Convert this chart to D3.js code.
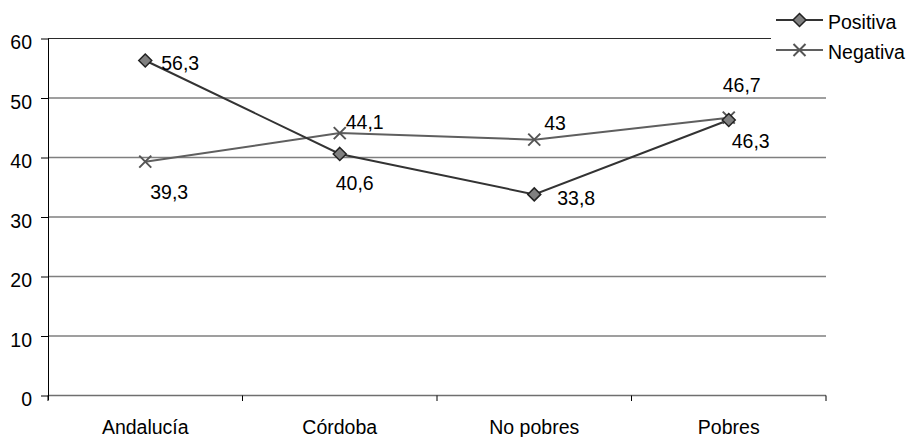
<!DOCTYPE html>
<html>
<head>
<meta charset="utf-8">
<script src="https://cdn.jsdelivr.net/npm/d3@7"></script>
<style>
  html, body { margin: 0; padding: 0; background: #fff; }
  svg { display: block; font-family: "Liberation Sans", Arial, sans-serif; }
</style>
</head>
<body>
<svg id="chart" width="908" height="437"></svg>
<script>
// Chart data
const categories = ["Andalucía", "Córdoba", "No pobres", "Pobres"];
const positiva = [56.3, 40.6, 33.8, 46.3];
const negativa = [39.3, 44.1, 43, 46.7];
const yTicks = [0, 10, 20, 30, 40, 50, 60];
const seriesNames = ["Positiva", "Negativa"];
const valueLabel = v => String(v).replace(".", ",");

const svg = d3.select("#chart");
const fontSize = 19.5;

const x = d3.scaleBand().domain(categories).range([48, 826]).padding(0);
const y = d3.scaleLinear().domain([0, 60]).range([395.5, 38.5]);
const cx = c => x(c) + x.bandwidth() / 2;

// Horizontal gridlines
svg.append("g").selectAll("line")
  .data(yTicks.filter(t => t > 0))
  .join("line")
  .attr("x1", 48).attr("x2", d => d === 60 ? 771 : 826)
  .attr("y1", d => y(d)).attr("y2", d => y(d))
  .attr("stroke", d => d === 60 ? "#2a2a2a" : "#7f7f7f")
  .attr("stroke-width", d => d === 60 ? 1 : 1.6);

// Category axis (bottom)
const xAxis = svg.append("g").attr("transform", `translate(0,${y(0)})`);
xAxis.append("line").attr("x1", 48).attr("x2", 826).attr("y1", 0).attr("y2", 0)
  .attr("stroke", "#6f6f6f").attr("stroke-width", 1.6);
const bounds = categories.map(c => x(c) + x.bandwidth()).concat([x(categories[0])]);
xAxis.selectAll("line.tick").data(bounds).join("line").attr("class", "tick")
  .attr("x1", d => d).attr("x2", d => d).attr("y1", 0).attr("y2", 5.5)
  .attr("stroke", "#000").attr("stroke-width", 1);
xAxis.selectAll("text").data(categories).join("text")
  .attr("x", d => cx(d)).attr("y", 38.5)
  .attr("text-anchor", "middle").attr("font-size", fontSize).attr("fill", "#000")
  .text(d => d);

// Value axis (left)
const yAxis = svg.append("g").attr("transform", "translate(48,0)")
  .call(d3.axisLeft(y).tickValues(yTicks).tickSize(7).tickSizeOuter(0).tickPadding(9));
yAxis.select(".domain").attr("stroke", "#000").attr("stroke-width", 1)
  .attr("d", `M0.5,${y(60)}V${y(0) + 4.5}`);
yAxis.selectAll(".tick line").attr("stroke", "#000");
yAxis.selectAll(".tick text").attr("font-size", fontSize).attr("fill", "#000")
  .attr("font-family", "Liberation Sans, Arial, sans-serif")
  .attr("dy", "0.52em").attr("x", -16);

// Lines
const line = d3.line().x((d, i) => cx(categories[i])).y(d => y(d));
svg.append("path").datum(negativa).attr("d", line)
  .attr("fill", "none").attr("stroke", "#5f5f5f").attr("stroke-width", 2);
svg.append("path").datum(positiva).attr("d", line)
  .attr("fill", "none").attr("stroke", "#333").attr("stroke-width", 2);

// Markers
const diamond = (g, px, py) => g.append("path")
  .attr("d", `M${px},${py - 6.5}L${px + 6.5},${py}L${px},${py + 6.5}L${px - 6.5},${py}Z`)
  .attr("fill", "#808080").attr("stroke", "#222").attr("stroke-width", 1.5);
const cross = (g, px, py) => g.append("path")
  .attr("d", `M${px - 6},${py - 6}L${px + 6},${py + 6}M${px - 6},${py + 6}L${px + 6},${py - 6}`)
  .attr("stroke", "#555").attr("stroke-width", 2).attr("fill", "none");

const marks = svg.append("g");
negativa.forEach((v, i) => cross(marks, cx(categories[i]), y(v)));
positiva.forEach((v, i) => diamond(marks, cx(categories[i]), y(v)));

// Data labels (offsets from each point: text start, baseline)
const posOffsets = [[16, 9.5], [-4, 36], [23, 10.6], [3, 28]];
const negOffsets = [[5, 37], [6, -4], [10, -10], [-6, -25.6]];
const labels = svg.append("g").attr("font-size", fontSize).attr("fill", "#000");
positiva.forEach((v, i) => labels.append("text")
  .attr("x", cx(categories[i]) + posOffsets[i][0])
  .attr("y", y(v) + posOffsets[i][1])
  .text(valueLabel(v)));
negativa.forEach((v, i) => labels.append("text")
  .attr("x", cx(categories[i]) + negOffsets[i][0])
  .attr("y", y(v) + negOffsets[i][1])
  .text(valueLabel(v)));

// Legend
const legend = svg.append("g");
legend.append("rect").attr("x", 771).attr("y", 0).attr("width", 137).attr("height", 70).attr("fill", "#fff");
const ly = [20, 50];
seriesNames.forEach((name, i) => {
  legend.append("line").attr("x1", 776).attr("x2", 823).attr("y1", ly[i]).attr("y2", ly[i])
    .attr("stroke", i === 0 ? "#333" : "#5f5f5f").attr("stroke-width", 2);
  if (i === 0) diamond(legend, 799.5, ly[i]); else cross(legend, 799.5, ly[i]);
  legend.append("text").attr("x", 828).attr("y", ly[i] + 8.5)
    .attr("font-size", fontSize).attr("fill", "#000").text(name);
});
</script>
</body>
</html>
